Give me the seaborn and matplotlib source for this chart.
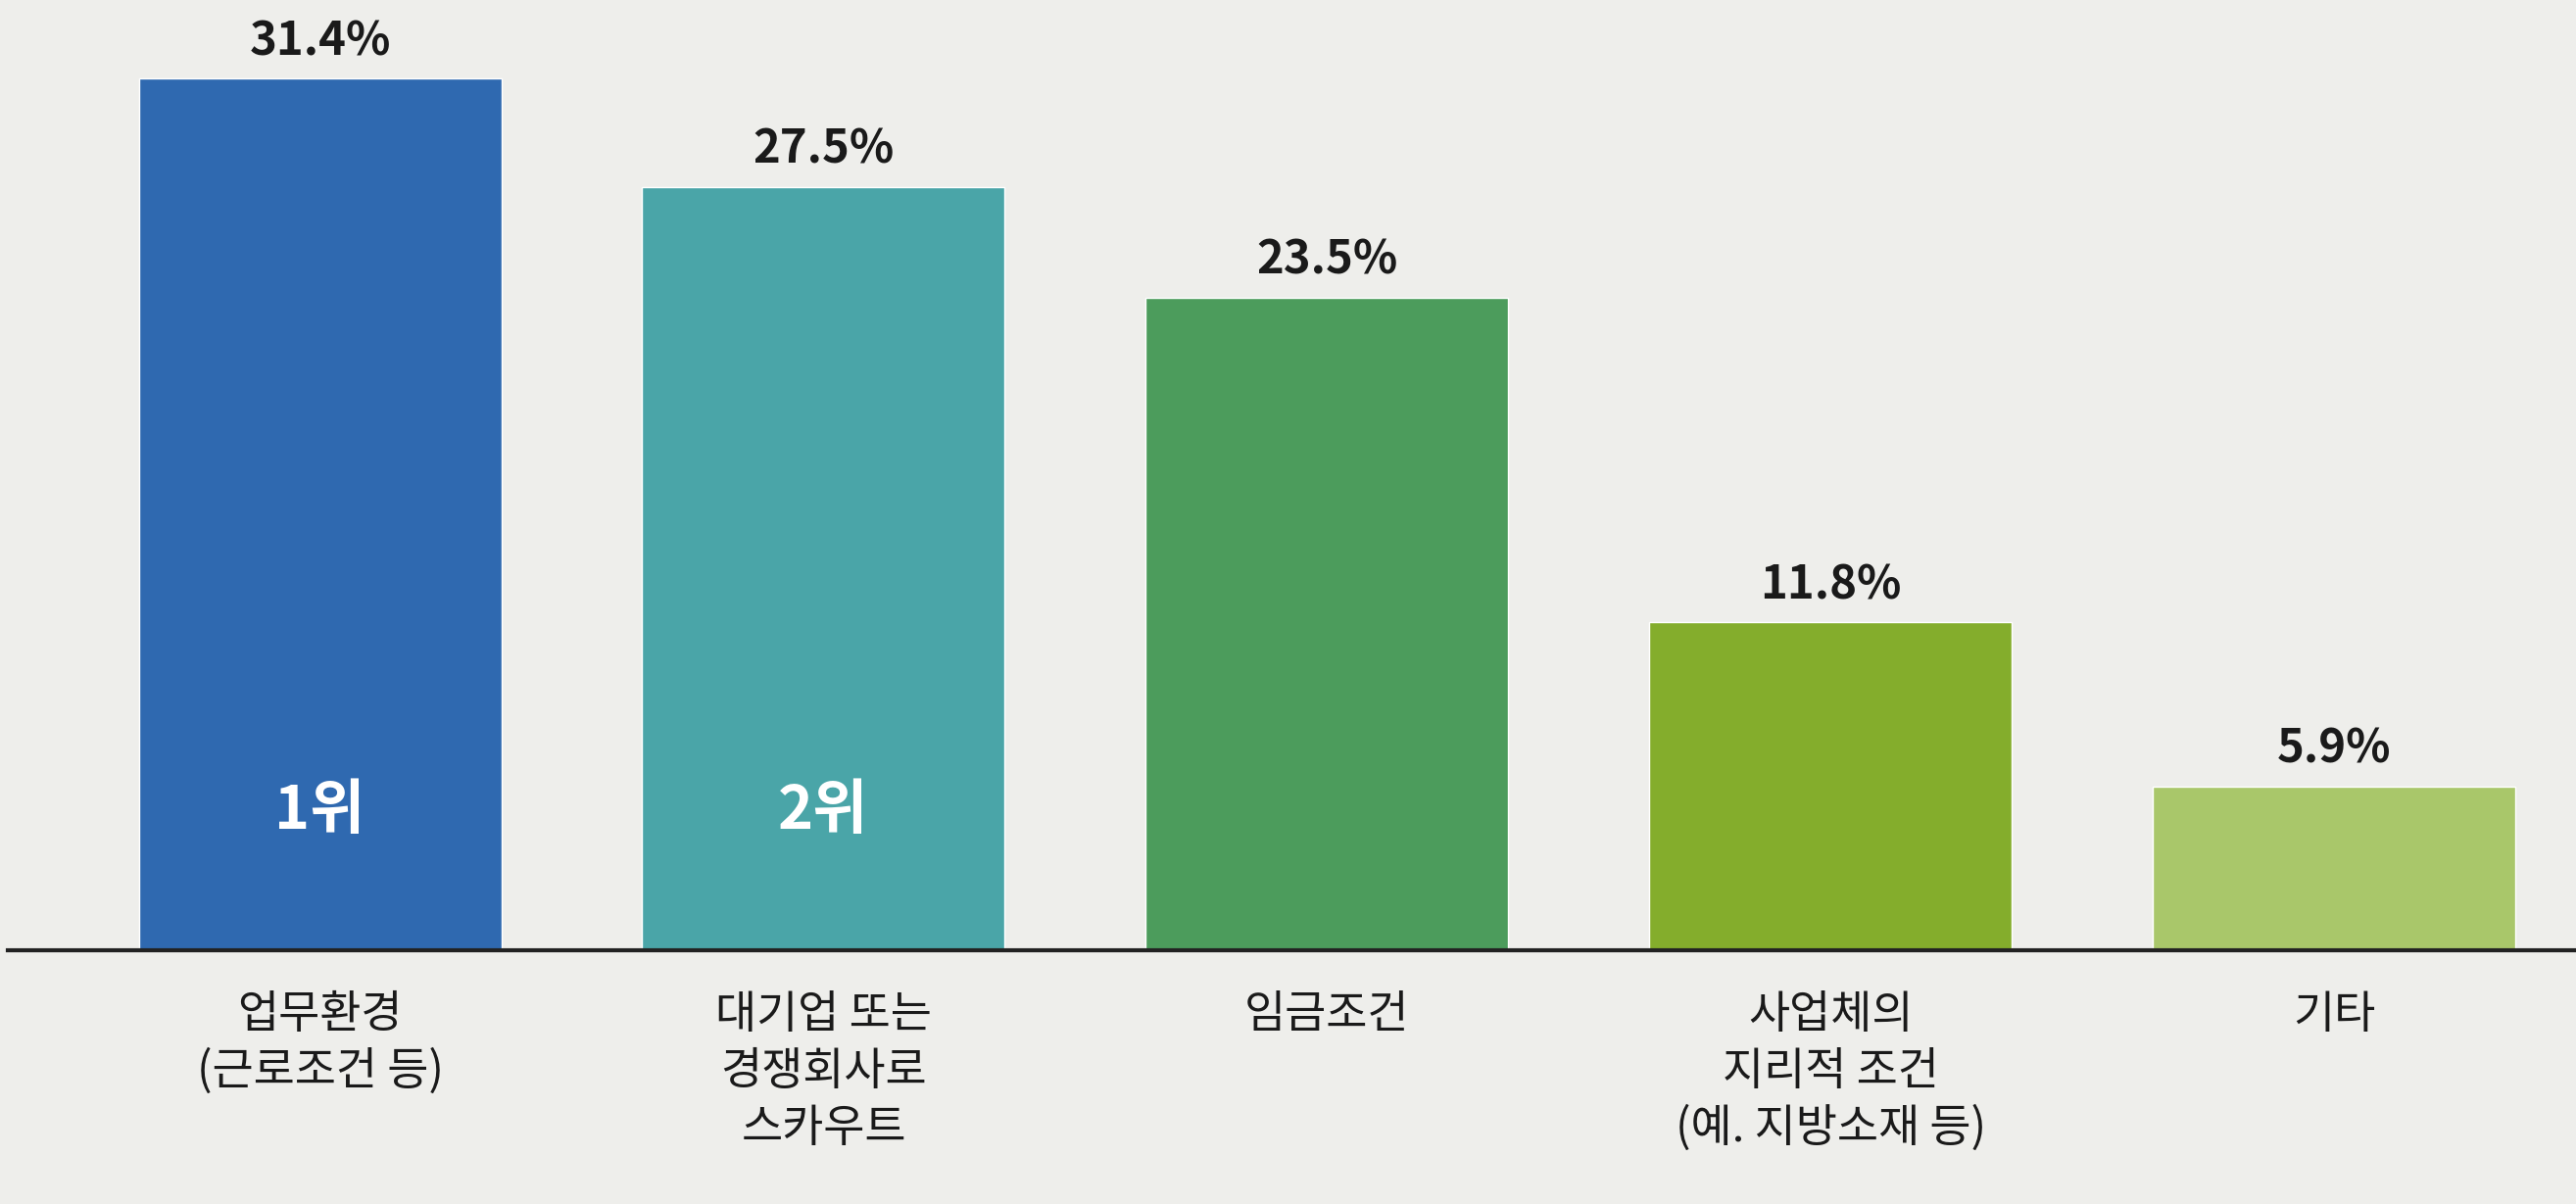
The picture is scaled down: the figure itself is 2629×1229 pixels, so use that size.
import matplotlib
matplotlib.use("Agg")
import matplotlib.pyplot as plt
import seaborn as sns
import pandas as pd

categories = ["업무환경\n(근로조건 등)", "대기업 또는\n경쟁회사로\n스카우트", "임금조건",
              "사업체의\n지리적 조건\n(예. 지방소재 등)", "기타"]
values = [31.4, 27.5, 23.5, 11.8, 5.9]
value_labels = ["31.4%", "27.5%", "23.5%", "11.8%", "5.9%"]
rank_labels = ["1위", "2위", "", "", ""]
colors = ["#2f69b0", "#4aa5a8", "#4c9c5c", "#84ad2c", "#a9c76a"]

sns.set_theme(style="white")
plt.rcParams['font.family'] = ['Noto Sans CJK KR', 'DejaVu Sans']

fig = plt.figure(figsize=(26.29, 12.29), dpi=100)
fig.patch.set_facecolor("#eeeeeb")
ax = fig.add_axes([0.003, 0.211, 0.997, 0.779])
ax.set_facecolor("#eeeeeb")

df = pd.DataFrame({"cat": categories, "val": values})
sns.barplot(data=df, x="cat", y="val", hue="cat", palette=colors, legend=False,
            width=0.72, ax=ax, saturation=1)

ax.set_ylim(0, 33.8)
ax.set_xlim(-0.62, 4.48)
ax.set_yticks([])
ax.set_xlabel("")
ax.set_ylabel("")
for s in ["top", "right", "left"]:
    ax.spines[s].set_visible(False)
ax.spines["bottom"].set_color("#222222")
ax.spines["bottom"].set_linewidth(3)

for i, (v, lab, r) in enumerate(zip(values, value_labels, rank_labels)):
    ax.text(i, v + 0.5, lab, ha="center", va="bottom", fontsize=34,
            fontweight="bold", color="#1a1a1a")
    if r:
        ax.text(i, 5.0, r, ha="center", va="center", fontsize=44,
                fontweight="bold", color="white")

ax.set_xticks(range(len(categories)))
ax.set_xticklabels(categories, fontsize=33, color="#1a1a1a", va="top",
                   linespacing=1.25, fontweight="medium")
ax.tick_params(axis="x", length=0, pad=30)

fig.savefig("out.png", dpi=100, facecolor=fig.get_facecolor())
